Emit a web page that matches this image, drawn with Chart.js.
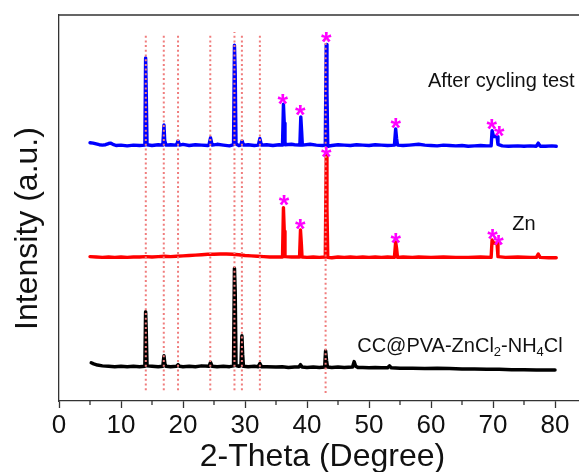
<!DOCTYPE html>
<html>
<head>
<meta charset="utf-8">
<title>XRD patterns</title>
<script src="https://cdn.jsdelivr.net/npm/chart.js@4.4.1/dist/chart.umd.min.js"></script>
<style>
  html, body { margin: 0; padding: 0; background: #fff; overflow: hidden; }
  #wrap { position: absolute; left: 0; top: 0; width: 586px; height: 480px; }
</style>
</head>
<body>
<div id="wrap"><canvas id="xrdChart"></canvas></div>
<script>
// 2-theta / stacked intensity (a.u.) for each pattern
const cycledX = [5.0, 5.5, 6.0, 6.5, 7.0, 7.5, 8.0, 8.3, 8.7, 9.2, 10, 11, 12, 13, 13.85, 13.97, 14.07, 14.2,
  15, 16, 16.75, 16.93, 17.05, 17.25, 18, 18.95, 19.2, 19.45, 20, 21, 22, 23, 24, 24.2, 24.44, 24.7,
  25.5, 26.5, 27.5, 28.15, 28.3, 28.42, 28.55, 29.0, 29.3, 29.53, 29.75, 30.5, 31.5, 32.15, 32.4, 32.65,
  33.5, 34.5, 35.5, 36.05, 36.2, 36.33, 36.45, 37.5, 38.0, 38.85, 39.0, 39.13, 39.25, 40.5, 41.5, 42.5,
  42.95, 43.1, 43.22, 43.35, 44, 45, 46, 47, 48, 49, 50, 51, 52, 53, 54.1, 54.3, 54.45, 54.6,
  55.5, 56.5, 58, 59, 60, 61, 62, 63, 64, 65, 66, 67, 68, 69, 69.7, 69.85, 70.1, 70.65, 70.8,
  71.5, 72.5, 74, 75, 76, 77.0, 77.3, 77.6, 78.5, 79.5, 80.2];
const cycledY = [66.9, 66.8, 66.6, 66.4, 66.3, 66.4, 66.7, 66.8, 66.5, 66.2, 66.3, 66.1, 66.3, 66.2, 66.3, 88.9, 80.0, 66.4,
  66.2, 66.4, 66.3, 71.5, 67.5, 66.3, 66.4, 66.3, 67.4, 66.3, 66.5, 66.2, 66.4, 66.3, 66.2, 66.4, 68.2, 66.3,
  66.5, 66.3, 66.1, 66.4, 92.2, 85.0, 66.6, 66.2, 66.3, 67.4, 66.3, 66.4, 66.2, 66.3, 68.0, 66.3,
  66.4, 66.2, 66.4, 66.3, 76.9, 72.0, 66.4, 66.5, 66.4, 66.3, 73.6, 70.0, 66.3, 66.5, 66.3, 66.2,
  66.3, 92.4, 80.0, 66.0, 66.2, 66.4, 66.3, 66.2, 66.4, 66.3, 66.2, 66.4, 66.3, 66.2, 66.3, 70.5, 68.0, 66.3,
  66.2, 66.3, 66.5, 66.3, 66.2, 66.1, 66.3, 66.2, 66.1, 66.2, 66.0, 66.1, 66.2, 66.1, 66.1, 70.0, 68.5, 68.5, 66.5,
  66.1, 66.0, 66.1, 66.0, 66.1, 66.0, 66.8, 66.0, 66.0, 66.1, 66.0];

const znX = [5, 6, 7, 8, 9, 10, 11, 12, 13, 14, 15, 16, 17, 18, 19, 20, 21, 22, 23, 24, 25, 26, 27, 28, 29,
  30, 31, 32, 33, 34, 35, 36.05, 36.2, 36.33, 36.45, 37.5, 38.8, 38.95, 39.08, 39.2, 40, 41, 42,
  42.95, 43.1, 43.22, 43.35, 44, 45, 46, 47, 48, 49, 50, 51, 52, 53, 54.1, 54.3, 54.45, 54.6,
  55.5, 57, 58, 60, 62, 64, 66, 68, 69.7, 69.85, 70.1, 70.65, 70.8, 72, 74, 76, 77.0, 77.3, 77.6, 79, 80.2];
const znY = [37.4, 37.3, 37.2, 37.3, 37.2, 37.3, 37.2, 37.3, 37.3, 37.4, 37.3, 37.4, 37.5, 37.4, 37.5, 37.6, 37.7, 37.8, 37.9, 38.0, 38.0, 38.1, 38.1, 38.0, 37.9,
  37.7, 37.6, 37.5, 37.4, 37.3, 37.3, 37.3, 50.1, 44.0, 37.4, 37.3, 37.3, 44.3, 41.0, 37.3, 37.2, 37.3, 37.2,
  37.3, 63.5, 50.0, 37.2, 37.1, 37.3, 37.2, 37.3, 37.2, 37.3, 37.2, 37.3, 37.2, 37.3, 37.2, 41.2, 39.5, 37.2,
  37.3, 37.2, 37.3, 37.2, 37.3, 37.2, 37.2, 37.3, 37.2, 41.7, 40.9, 40.9, 37.4, 37.2, 37.3, 37.2, 37.2, 38.1, 37.2, 37.1, 37.1];

const gelX = [5.2, 5.6, 6.2, 7, 8, 9, 10, 11, 12, 13, 13.85, 13.97, 14.07, 14.2, 15, 16, 16.75, 16.93, 17.08, 17.25,
  18, 18.95, 19.2, 19.45, 20, 21, 22, 23, 24.2, 24.44, 24.7, 25.5, 26.5, 27.5, 28.15, 28.3, 28.42, 28.55,
  29.0, 29.35, 29.5, 29.62, 29.75, 30.5, 31.5, 32.15, 32.4, 32.65, 33.5, 35, 36, 37, 38, 38.7, 38.95, 39.2,
  40, 41, 42, 42.85, 43.0, 43.15, 43.3, 44, 45, 46, 47.35, 47.6, 47.85, 48.2, 49, 50, 51, 52, 53.0, 53.3, 53.6,
  55, 57, 59, 61, 63, 65, 67, 69, 71, 73, 75, 77, 79, 80.0];
const gelY = [9.9, 9.6, 9.3, 9.1, 9.0, 8.9, 9.0, 8.9, 9.0, 8.9, 9.0, 23.1, 18.0, 9.1, 9.0, 8.9, 9.0, 11.7, 9.6, 9.0,
  8.9, 9.0, 9.4, 9.0, 8.9, 9.0, 8.9, 9.1, 9.0, 10.0, 9.0, 8.9, 9.0, 8.9, 9.1, 34.4, 28.0, 9.2,
  9.0, 9.2, 16.9, 12.0, 9.0, 8.9, 9.0, 8.9, 9.7, 8.9, 8.9, 8.8, 8.9, 8.7, 8.8, 8.8, 9.4, 8.8,
  8.7, 8.8, 8.7, 8.8, 13.0, 10.5, 8.8, 8.7, 8.8, 8.7, 8.8, 10.2, 9.0, 8.7, 8.7, 8.6, 8.7, 8.6, 8.6, 9.1, 8.6,
  8.5, 8.5, 8.4, 8.5, 8.4, 8.3, 8.3, 8.2, 8.2, 8.1, 8.1, 8.0, 8.0, 8.0];

// reference reflections (dotted guides)
const refX = [14.0, 16.9, 19.2, 24.4, 28.3, 29.5, 32.4, 43.0];
const refTop = [94.6, 94.8, 94.8, 94.6, 95.6, 95.3, 94.6, 94.6];
const refBottom = [2.8, 2.8, 2.8, 2.8, 2.8, 2.8, 2.8, 2.1];

// Zn reflections marked with *
const starX = [36.1, 38.9, 43.1, 54.3, 69.8, 71.0, 36.3, 38.9, 43.1, 54.3, 69.9, 70.9];
const starY = [78.6, 75.8, 94.6, 72.4, 72.1, 70.4, 52.5, 46.3, 65.0, 42.7, 43.7, 42.0];

const xTicks = [0, 10, 20, 30, 40, 50, 60, 70, 80];
const xMinor = [5, 15, 25, 35, 45, 55, 65, 75];

const FONT = '"Liberation Sans", Arial, sans-serif';
const AXIS = '#333';

const toPoints = (xs, ys) => xs.map((x, i) => ({ x: x, y: ys[i] }));

const datasets = refX.map((x, i) => ({
  data: [{ x: x, y: refBottom[i] }, { x: x, y: refTop[i] }],
  borderColor: 'rgb(240,125,125)',
  borderWidth: 2,
  borderDash: [2, 2.7],
  pointRadius: 0
}));

const trace = (xs, ys, color, width) => ({
  data: toPoints(xs, ys),
  borderColor: color,
  borderWidth: width,
  borderJoinStyle: 'round',
  borderCapStyle: 'round',
  pointRadius: 0
});

datasets.push(
  trace(cycledX, cycledY, '#0000ff', 3.4),
  trace(znX, znY, '#ff0000', 3.4),
  trace(gelX, gelY, '#000000', 3.5)
);

// frame top, minor ticks, y title, sample labels and * marks
const extras = {
  id: 'extras',
  afterDraw(chart) {
    const { ctx, chartArea, scales: { x, y } } = chart;
    ctx.save();

    ctx.strokeStyle = AXIS;
    ctx.lineWidth = 1.3;
    ctx.beginPath();
    ctx.moveTo(chartArea.left, chartArea.top);
    ctx.lineTo(chartArea.right, chartArea.top);
    xMinor.forEach(v => {
      const px = x.getPixelForValue(v);
      ctx.moveTo(px, chartArea.bottom);
      ctx.lineTo(px, chartArea.bottom + 4);
    });
    ctx.stroke();

    ctx.fillStyle = '#111';
    ctx.save();
    ctx.translate(37, 228.5);
    ctx.rotate(-Math.PI / 2);
    ctx.textAlign = 'center';
    ctx.textBaseline = 'alphabetic';
    ctx.font = '32px ' + FONT;
    ctx.fillText('Intensity (a.u.)', 0, 0);
    ctx.restore();

    ctx.font = '20px ' + FONT;
    ctx.textAlign = 'left';
    ctx.textBaseline = 'middle';
    ctx.fillText('After cycling test', x.getPixelForValue(59.5), y.getPixelForValue(82.7));
    ctx.fillText('Zn', x.getPixelForValue(73.1), y.getPixelForValue(45.6));

    // chemical formula with subscripts
    let px = x.getPixelForValue(48.1);
    const py = y.getPixelForValue(14.1);
    [['CC@PVA-ZnCl', 0], ['2', 1], ['-NH', 0], ['4', 1], ['Cl', 0]].forEach(([t, sub]) => {
      ctx.font = (sub ? '13px ' : '20px ') + FONT;
      ctx.fillText(t, px, py + (sub ? 6 : 0));
      px += ctx.measureText(t).width;
    });

    ctx.fillStyle = '#ff00ff';
    ctx.font = 'bold 27px ' + FONT;
    ctx.textAlign = 'center';
    ctx.textBaseline = 'alphabetic';
    starX.forEach((sx, i) => {
      ctx.fillText('*', x.getPixelForValue(sx), y.getPixelForValue(starY[i]) + 15.5);
    });

    ctx.restore();
  }
};

new Chart(document.getElementById('xrdChart'), {
  type: 'line',
  data: { datasets: datasets },
  options: {
    responsive: true,
    maintainAspectRatio: false,
    animation: false,
    layout: { padding: { top: 15, left: 0, right: 0, bottom: 0 } },
    elements: { line: { tension: 0 } },
    plugins: { legend: { display: false }, tooltip: { enabled: false } },
    scales: {
      x: {
        type: 'linear',
        min: 0,
        max: 85,
        afterFit: s => { s.height = 79; },
        afterBuildTicks: s => { s.ticks = xTicks.map(v => ({ value: v })); },
        ticks: { font: { family: FONT, size: 26 }, color: '#111', padding: 2, maxRotation: 0 },
        grid: { drawOnChartArea: false, tickLength: 7, tickColor: AXIS, tickWidth: 1.3 },
        border: { color: AXIS, width: 1.3 },
        title: {
          display: true,
          text: '2-Theta (Degree)',
          color: '#111',
          font: { family: FONT, size: 32 },
          padding: { top: 0, bottom: 4 }
        }
      },
      y: {
        type: 'linear',
        min: 0,
        max: 100,
        afterFit: s => { s.width = 59; },
        ticks: { display: false },
        grid: { display: false },
        border: { color: AXIS, width: 1.3 }
      }
    }
  },
  plugins: [extras]
});
</script>
</body>
</html>
